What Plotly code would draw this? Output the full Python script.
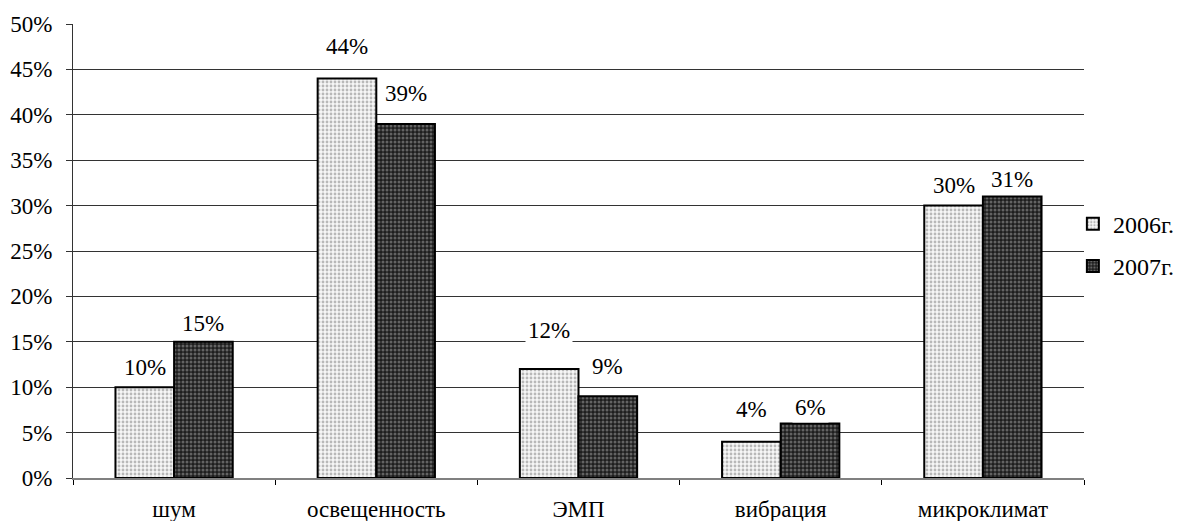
import plotly.graph_objects as go

categories = ["шум", "освещенность", "ЭМП", "вибрация", "микроклимат"]
series_names = ["2006г.", "2007г."]
values_2006 = [0.10, 0.44, 0.12, 0.04, 0.30]
values_2007 = [0.15, 0.39, 0.09, 0.06, 0.31]
y_ticks = [0, 0.05, 0.10, 0.15, 0.20, 0.25, 0.30, 0.35, 0.40, 0.45, 0.50]

# label offsets above bar tops (pixels), style only
shift_2006 = [20, 32, 39, 32, 20]
shift_2007 = [18, 30, 30, 16, 17]

FONT = "Liberation Serif"
BARGAP = 0.42

fig = go.Figure()
fig.add_trace(go.Bar(
    x=categories, y=values_2006, name=series_names[0], legendgroup="a",
    marker=dict(color="#eeeeee", line=dict(color="black", width=2),
                pattern=dict(shape=".", bgcolor="#f6f6f6", fgcolor="#7a7a7a",
                             size=4, solidity=0.4, fillmode="overlay")),
))
fig.add_trace(go.Bar(
    x=categories, y=values_2007, name=series_names[1], legendgroup="b",
    marker=dict(color="#222222", line=dict(color="black", width=2),
                pattern=dict(shape=".", bgcolor="#1e1e1e", fgcolor="#a8a8a8",
                             size=4, solidity=0.45, fillmode="overlay")),
))

half = (1 - BARGAP) / 4
for i, cat in enumerate(categories):
    for vals, shifts, sign in ((values_2006, shift_2006, -1), (values_2007, shift_2007, 1)):
        fig.add_annotation(
            x=i + sign * half, y=vals[i], xref="x", yref="y",
            text=f"{round(vals[i]*100)}%", showarrow=False,
            yanchor="middle", yshift=shifts[i],
            font=dict(family=FONT, size=23, color="black"),
            bgcolor="white", borderpad=2,
        )

fig.update_layout(
    width=1175, height=513,
    margin=dict(l=65, r=99, t=16, b=43, autoexpand=False),
    paper_bgcolor="white", plot_bgcolor="white",
    barmode="group", bargap=BARGAP, bargroupgap=0,
    font=dict(family=FONT, size=23, color="black"),
    showlegend=True,
    legend=dict(x=0.989, y=0.513, xanchor="left", yanchor="middle",
                font=dict(family=FONT, size=24, color="black"),
                tracegroupgap=8, itemwidth=30, bgcolor="rgba(0,0,0,0)"),
)
fig.update_xaxes(
    type="category", showgrid=False, showline=True, linecolor="#808080", linewidth=2,
    ticks="outside", tickson="boundaries", ticklen=5, tickcolor="black",
    ticklabelstandoff=9,
    tickfont=dict(family=FONT, size=23, color="black"), range=[-0.5, 4.5],
)
fig.update_yaxes(
    range=[0, 0.5], tickvals=y_ticks, tickformat=".0%",
    showgrid=True, gridcolor="#333333", gridwidth=1,
    showline=True, linecolor="#333333", linewidth=1,
    ticks="outside", ticklen=6, tickcolor="#333333",
    ticklabelstandoff=9,
    tickfont=dict(family=FONT, size=23, color="black"),
    zeroline=False,
)

fig.write_html("out.html")
